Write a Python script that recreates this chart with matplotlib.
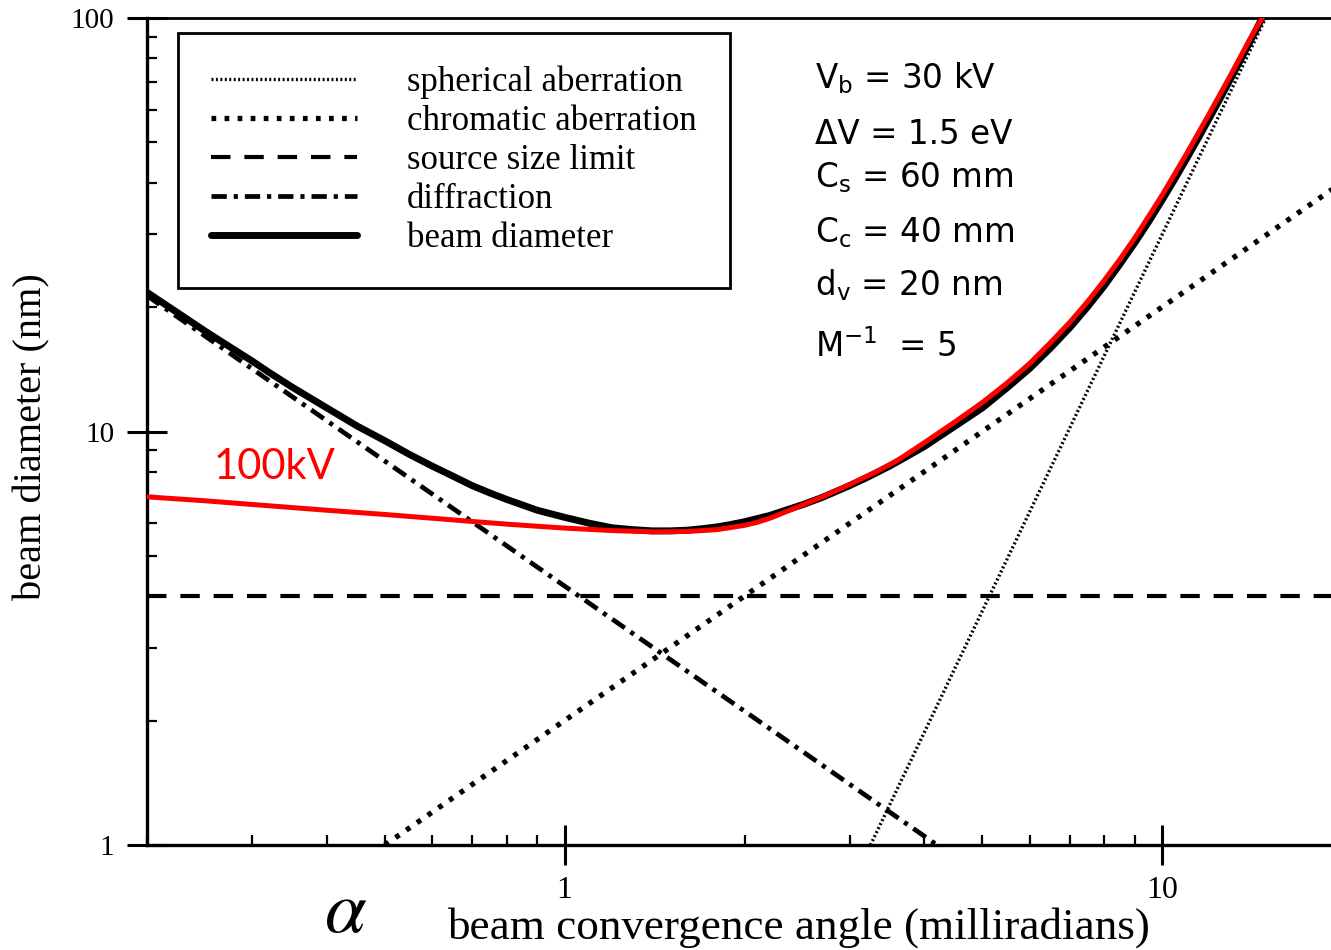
import matplotlib
matplotlib.use("Agg")
import matplotlib.pyplot as plt

plt.rcParams['font.family'] = ['Liberation Serif', 'DejaVu Serif']
plt.rcParams['lines.scale_dashes'] = False

# ---------------- data ----------------
alpha_beam = [0.2, 0.22, 0.25, 0.27, 0.3, 0.32, 0.35, 0.4, 0.45, 0.5, 0.55, 0.6, 0.65, 0.7,
              0.75, 0.8, 0.9, 1.0, 1.1, 1.2, 1.3, 1.4, 1.5, 1.6, 1.7, 1.8, 1.9, 2.0, 2.2,
              2.5, 2.7, 3.0, 3.2, 3.5, 3.7, 4.0, 4.5, 5.0, 5.5, 6.0, 6.5, 7.0, 7.5, 8.0,
              8.5, 9.0, 9.5, 10.0, 10.5, 11.0, 11.5, 12.0, 12.5, 13.0, 13.5, 14.2, 14.7]
d_beam = [21.7, 19.8, 17.5, 16.3, 14.8, 13.9, 12.8, 11.4, 10.3, 9.5, 8.8, 8.25, 7.8, 7.4,
          7.1, 6.85, 6.45, 6.2, 6.0, 5.85, 5.79, 5.75, 5.75, 5.77, 5.82, 5.88, 5.96, 6.05, 6.26,
          6.65, 6.93, 7.4, 7.73, 8.25, 8.63, 9.2, 10.3, 11.4, 12.75, 14.2, 15.9, 17.8, 20.0, 22.5,
          25.4, 28.6, 32.2, 36.3, 40.8, 45.8, 51.3, 57.3, 63.8, 71.0, 78.7, 90.6, 100.0]

alpha_100kv = [0.2, 0.25, 0.3, 0.4, 0.5, 0.6, 0.7, 0.8, 0.9, 1.0, 1.2, 1.4, 1.6, 1.8, 2.0,
               2.1, 2.2, 2.4, 2.7, 3.0, 3.3, 3.6, 4.0, 4.5, 5.0, 5.5, 6.0, 6.5, 7.0, 7.5, 8.0,
               8.5, 9.0, 9.5, 10.0, 11.0, 12.0, 13.0, 14.0, 14.7]
d_100kv = [6.95, 6.8, 6.66, 6.45, 6.3, 6.17, 6.06, 5.97, 5.9, 5.84, 5.76, 5.72, 5.73, 5.79, 5.93,
           6.03, 6.16, 6.48, 6.95, 7.45, 7.95, 8.5, 9.4, 10.55, 11.75, 13.1, 14.6, 16.4, 18.35,
           20.6, 23.2, 26.1, 29.4, 33.2, 37.3, 47.1, 58.8, 72.5, 88.5, 100.0]

alpha_sph = [3.25, 14.9]
d_sph = [1.0, 100.0]
alpha_chrom = [0.5, 20.0]
d_chrom = [1.0, 40.0]
alpha_src = [0.2, 20.0]
d_src = [4.0, 4.0]
alpha_diff = [0.2, 4.2]
d_diff = [21.3, 1.0]

legend_labels = ['spherical aberration', 'chromatic aberration', 'source size limit',
                 'diffraction', 'beam diameter']
x_ticks = [1, 10]
x_tick_labels = ['1', '10']
y_ticks = [1, 10, 100]
y_tick_labels = ['1', '10', '100']
param_lines = [r'$\mathregular{V_b}$ = 30 kV', 'ΔV = 1.5 eV', r'$\mathregular{C_s}$ = 60 mm',
               r'$\mathregular{C_c}$ = 40 mm', r'$\mathregular{d_v}$ = 20 nm',
               r'$\mathregular{M^{-1}}$  = 5']
param_baselines_px = [88, 144, 187, 242, 295, 357]

W, H = 1331, 950
fig = plt.figure(figsize=(W / 100, H / 100), dpi=100)
ax = fig.add_axes([147 / W, 105 / H, 1195 / W, 827 / H])
ax.set_xscale('log')
ax.set_yscale('log')
ax.set_xlim(0.2, 20)
ax.set_ylim(1, 100)

l_sph, = ax.plot(alpha_sph, d_sph, color='black', lw=2.4, dashes=(1.4, 1.8),
                 label=legend_labels[0])
l_chr, = ax.plot(alpha_chrom, d_chrom, color='black', lw=3.8, dashes=(3.4, 6.0),
                 label=legend_labels[1])
l_src, = ax.plot(alpha_src, d_src, color='black', lw=3.0, dashes=(14, 10),
                 label=legend_labels[2])
l_dif, = ax.plot(alpha_diff, d_diff, color='black', lw=3.4, dashes=(11, 5, 3, 5),
                 label=legend_labels[3])
l_beam, = ax.plot(alpha_beam, d_beam, color='black', lw=5.0, solid_capstyle='round',
                  solid_joinstyle='round', label=legend_labels[4])
ax.plot(alpha_100kv, d_100kv, color='#ff0000', lw=3.6, solid_capstyle='round',
        solid_joinstyle='round', zorder=5)

ax.text(0.2 * 10 ** ((213 - 147) / 597), 10 ** ((845 - 479) / 413), '100kV',
        color='#ff0000', family='Lato', fontsize=30, va='baseline', ha='left')

# ticks
ax.set_xticks(x_ticks, x_tick_labels)
ax.set_yticks(y_ticks, y_tick_labels)
ax.tick_params(axis='both', which='major', direction='inout', length=29, width=2.2)
ax.tick_params(axis='x', which='major', labelsize=23, pad=8)
ax.tick_params(axis='y', which='major', labelsize=21, pad=9)
ax.tick_params(axis='both', which='minor', direction='in', length=7, width=1.6)
ax.tick_params(axis='x', which='minor', labelbottom=False)
ax.tick_params(axis='y', which='minor', labelleft=False)

for s in ['left', 'bottom']:
    ax.spines[s].set_linewidth(2.4)
ax.spines['top'].set_linewidth(2.0)
ax.spines['right'].set_visible(False)

# axis labels
ax.set_ylabel('beam diameter (nm)', fontsize=29)
ax.yaxis.set_label_coords((32 - 147) / 1195, (845 - 437) / 827)
ax.yaxis.label.set_va('center')
ax.set_xlabel('beam convergence angle (milliradians)', fontsize=32.5)
ax.xaxis.set_label_coords((798 - 147) / 1195, (845 - 928) / 827)
ax.xaxis.label.set_va('center')
fig.text(346 / W, 1 - 914 / H, r'$\alpha$', fontsize=54, math_fontfamily='stix',
         ha='center', va='center')

# legend
leg = ax.legend(handles=[l_sph, l_chr, l_src, l_dif, l_beam], loc='upper left',
                bbox_to_anchor=((178 - 147) / 1195, (845 - 33) / 827), borderaxespad=0,
                fontsize=25, handlelength=4.2, handletextpad=1.45, labelspacing=0.17,
                borderpad=0.95, fancybox=False, framealpha=1, edgecolor='black')
leg.get_frame().set_linewidth(2.0)

# parameters
for txt, yb in zip(param_lines, param_baselines_px):
    fig.text(815 / W, 1 - yb / H, txt, family='DejaVu Sans', fontsize=23.5,
             math_fontfamily='dejavusans', va='baseline', ha='left')

fig.savefig('out.png', dpi=100, facecolor='white')
